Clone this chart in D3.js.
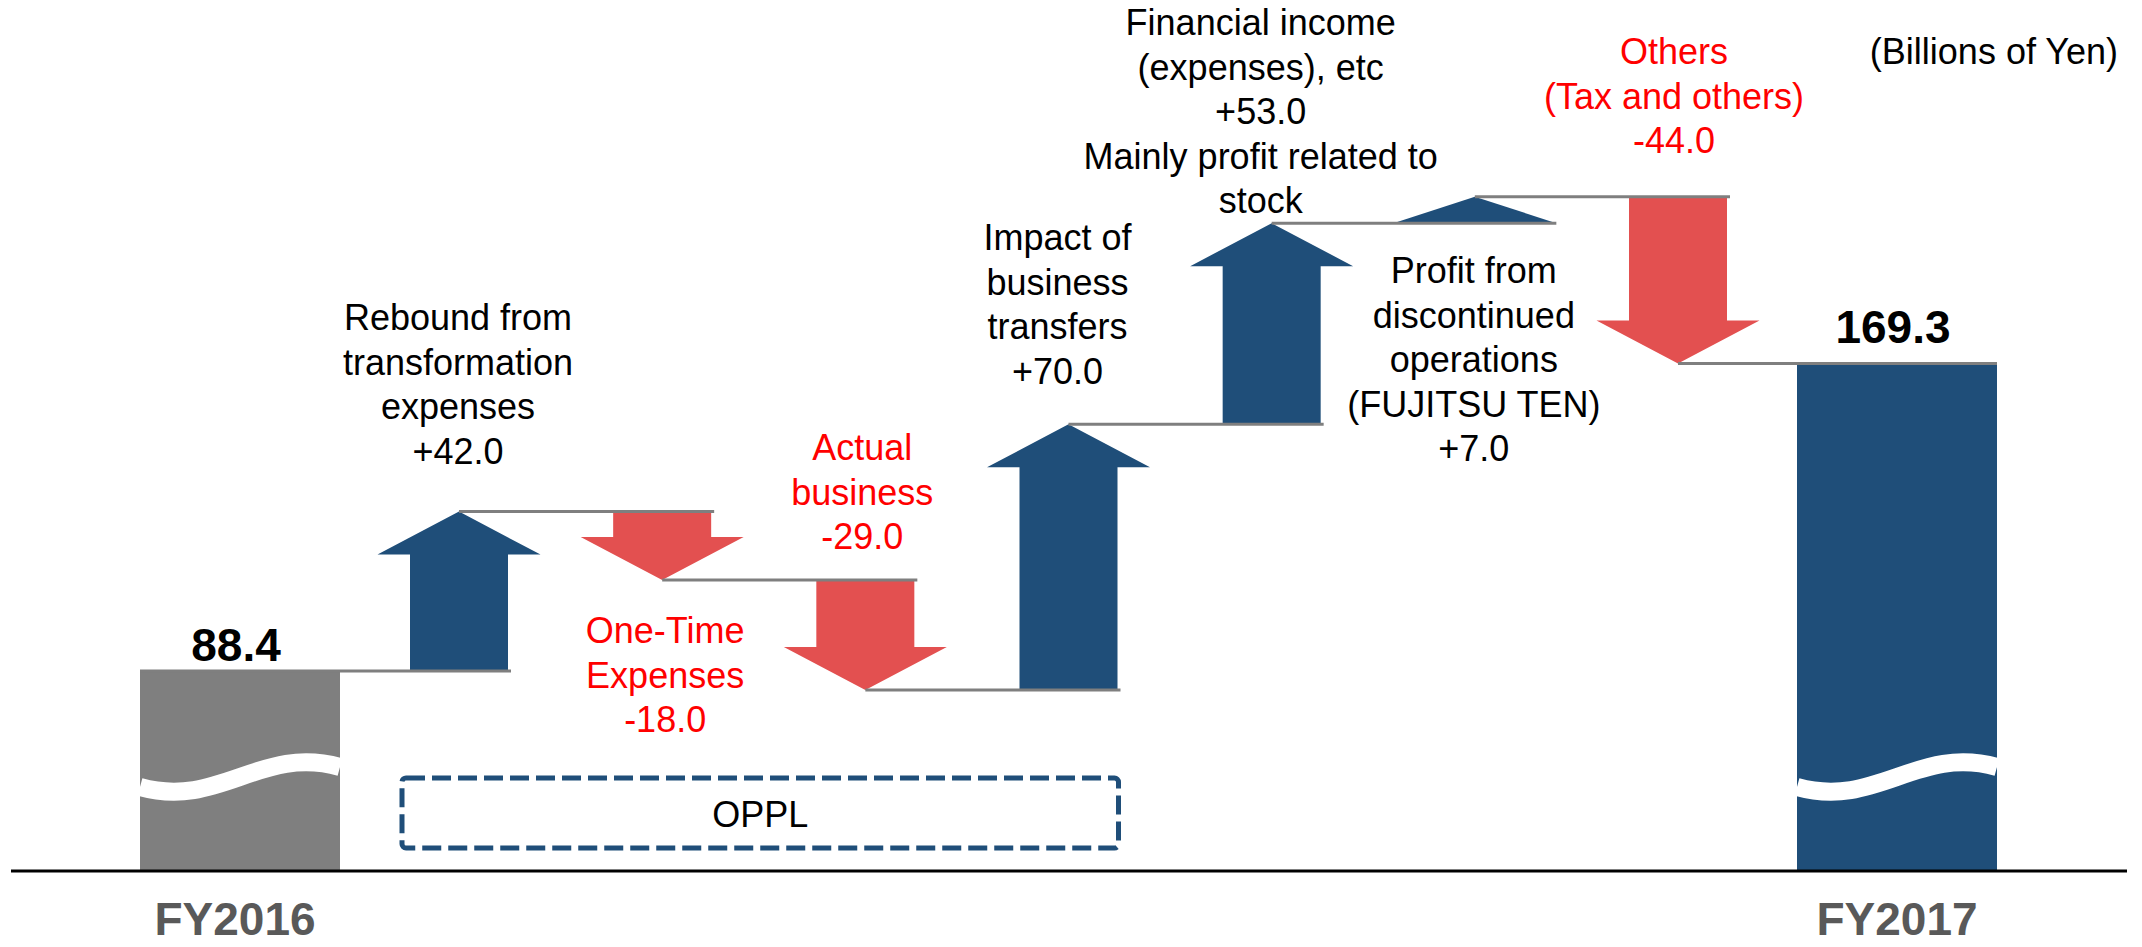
<!DOCTYPE html>
<html>
<head>
<meta charset="utf-8">
<script src="https://cdn.jsdelivr.net/npm/d3@7"></script>
<style>
  body { margin: 0; background: #fff; }
  svg { display: block; font-family: "Liberation Sans", Arial, sans-serif; }
</style>
</head>
<body>
<svg width="2142" height="947"></svg>
<script>
// data
const totalNames = ["FY2016", "FY2017"];
const totalValues = [88.4, 169.3];
const stepKeys = ["rebound", "oneTime", "actual", "transfers", "financial", "discontinued", "others"];
const stepValues = [42.0, -18.0, -29.0, 70.0, 53.0, 7.0, -44.0];
const stepLabels = [
  ["Rebound from", "transformation", "expenses", "+42.0"],
  ["One-Time", "Expenses", "-18.0"],
  ["Actual", "business", "-29.0"],
  ["Impact of", "business", "transfers", "+70.0"],
  ["Financial income", "(expenses), etc", "+53.0", "Mainly profit related to", "stock"],
  ["Profit from", "discontinued", "operations", "(FUJITSU TEN)", "+7.0"],
  ["Others", "(Tax and others)", "-44.0"]
];
const oppStart = "rebound", oppEnd = "transfers";
const unitLabel = "(Billions of Yen)";
const groupLabel = "OPPL";

// layout
const baseY = 871;
const blue = "#1f4e79", red = "#e35050", grey = "#7f7f7f";
const shaftW = 98, headW = 163, headH = 43, barW = 200;
const labelFirstY = [330, 643, 460, 250, 35, 283, 64];
const labelDx = [-1, 3, -3, -11, -11, -1, -4];
const labelRed = [false, true, true, false, false, false, true];
const lineH = 44.5;

const svg = d3.select("svg");

const xTotal = d3.scalePoint().domain(totalNames).range([240, 1897]);
const xStep = d3.scalePoint().domain(stepKeys).range([459, 1678]);
// broken axis: values map onto the visible part, bars run down to baseline
const y = d3.scaleLinear().domain(totalValues).range([671, 364]);

let levels = [totalValues[0]];
stepValues.forEach(v => levels.push(levels[levels.length - 1] + v));

const steps = stepKeys.map((k, i) => ({
  key: k, value: stepValues[i], from: levels[i], to: levels[i + 1],
  x: xStep(k), label: stepLabels[i], i: i
}));

const totals = totalNames.map((n, i) => ({ name: n, value: totalValues[i], x: xTotal(n) }));

// total bars
svg.selectAll(".total")
  .data(totals)
  .enter()
  .append("rect")
  .attr("x", d => d.x - barW / 2)
  .attr("width", barW)
  .attr("y", d => y(d.value))
  .attr("height", d => baseY - y(d.value))
  .attr("fill", (d, i) => i == 0 ? grey : blue);

// wave break
svg.selectAll(".wave")
  .data(totals)
  .enter()
  .append("path")
  .attr("d", d => {
    const x0 = d.x - barW / 2, w = barW;
    return `M${x0},${baseY - 84} C${x0 + 0.4 * w},${baseY - 62} ${x0 + 0.6 * w},${baseY - 126} ${x0 + w},${baseY - 104}`;
  })
  .attr("fill", "none")
  .attr("stroke", "#fff")
  .attr("stroke-width", 18);

function arrowPath(d) {
  const x = d.x, y0 = y(d.from), y1 = y(d.to);
  const dir = y1 < y0 ? 1 : -1;
  const len = Math.abs(y1 - y0);
  const p = d3.path();
  if (len > headH) {
    const hb = y1 + dir * headH;
    p.moveTo(x - shaftW / 2, y0);
    p.lineTo(x - shaftW / 2, hb);
    p.lineTo(x - headW / 2, hb);
    p.lineTo(x, y1);
    p.lineTo(x + headW / 2, hb);
    p.lineTo(x + shaftW / 2, hb);
    p.lineTo(x + shaftW / 2, y0);
  } else {
    p.moveTo(x - headW / 2, y0);
    p.lineTo(x, y1);
    p.lineTo(x + headW / 2, y0);
  }
  p.closePath();
  return p.toString();
}

svg.selectAll(".arrow")
  .data(steps)
  .enter()
  .append("path")
  .attr("d", arrowPath)
  .attr("fill", d => d.value > 0 ? blue : red);

// connector lines
function rightEdge(d) {
  const len = Math.abs(y(d.to) - y(d.from));
  return d.x + (len > headH ? shaftW / 2 + 3 : headW / 2);
}
const connectors = [];
connectors.push({ x1: totals[0].x - barW / 2, x2: rightEdge(steps[0]), level: levels[0] });
steps.forEach((d, i) => {
  const x2 = i < steps.length - 1 ? rightEdge(steps[i + 1]) : totals[1].x + barW / 2;
  connectors.push({ x1: d.x, x2: x2, level: d.to });
});
svg.selectAll(".conn")
  .data(connectors)
  .enter()
  .append("line")
  .attr("x1", d => d.x1)
  .attr("x2", d => d.x2)
  .attr("y1", d => y(d.level))
  .attr("y2", d => y(d.level))
  .attr("stroke", grey)
  .attr("stroke-width", 3);

// step labels
const lbl = svg.selectAll(".lbl")
  .data(steps)
  .enter()
  .append("text")
  .attr("text-anchor", "middle")
  .attr("font-size", 36)
  .attr("fill", d => labelRed[d.i] ? "#ff0000" : "#000");
lbl.selectAll("tspan")
  .data(d => d.label.map((t, j) => ({ t: t, j: j, d: d })))
  .enter()
  .append("tspan")
  .attr("x", e => e.d.x + labelDx[e.d.i])
  .attr("y", e => labelFirstY[e.d.i] + e.j * lineH)
  .text(e => e.t);

// total values
const totalOffset = [-10, -21];
svg.selectAll(".tv")
  .data(totals)
  .enter()
  .append("text")
  .attr("x", d => d.x - 4)
  .attr("y", (d, i) => y(d.value) + totalOffset[i])
  .attr("text-anchor", "middle")
  .attr("font-size", 46)
  .attr("font-weight", "bold")
  .text(d => d3.format(".1f")(d.value));

// baseline
svg.append("line")
  .attr("x1", 11).attr("x2", 2127)
  .attr("y1", baseY).attr("y2", baseY)
  .attr("stroke", "#000")
  .attr("stroke-width", 3);

svg.selectAll(".fy")
  .data(totals)
  .enter()
  .append("text")
  .attr("x", (d, i) => d.x + (i == 0 ? -5 : 0))
  .attr("y", 935)
  .attr("text-anchor", "middle")
  .attr("font-size", 46)
  .attr("font-weight", "bold")
  .attr("fill", "#595959")
  .text(d => d.name);

// OPPL dashed box
const bx0 = xStep(oppStart) - shaftW / 2 - 8, bx1 = xStep(oppEnd) + shaftW / 2 + 1;
svg.append("rect")
  .attr("x", bx0).attr("y", 778)
  .attr("width", bx1 - bx0).attr("height", 70)
  .attr("rx", 4)
  .attr("fill", "none")
  .attr("stroke", blue)
  .attr("stroke-width", 5)
  .attr("stroke-dasharray", "19 7");
svg.append("text")
  .attr("x", (bx0 + bx1) / 2).attr("y", 827)
  .attr("text-anchor", "middle")
  .attr("font-size", 36)
  .text(groupLabel);

svg.append("text")
  .attr("x", 2118).attr("y", 64)
  .attr("text-anchor", "end")
  .attr("font-size", 36)
  .text(unitLabel);
</script>
</body>
</html>
